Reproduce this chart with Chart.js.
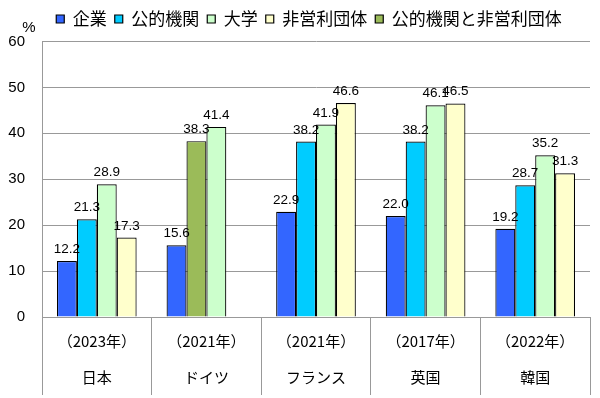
<!DOCTYPE html>
<html>
<head>
<meta charset="utf-8">
<script src="https://cdn.jsdelivr.net/npm/chart.js@4.4.1/dist/chart.umd.min.js"></script>
<style>
  body { margin: 0; background: #fff; }
  #wrap { width: 600px; height: 398px; }
</style>
</head>
<body>
<div id="wrap"><canvas id="c"></canvas></div>
<script>
// 各国の研究者の所属別割合（%）
var categories = [['（2023年）', '日本'], ['（2021年）', 'ドイツ'], ['（2021年）', 'フランス'], ['（2017年）', '英国'], ['（2022年）', '韓国']];
var seriesNames = ['企業', '公的機関', '大学', '非営利団体', '公的機関と非営利団体'];
var companies = [12.2, 15.6, 22.9, 22.0, 19.2];
var publicInst = [21.3, null, 38.2, 38.2, 28.7];
var universities = [28.9, 41.4, 41.9, 46.1, 35.2];
var nonprofits = [17.3, null, 46.6, 46.5, 31.3];
var publicAndNonprofit = [null, 38.3, null, null, null];
var yTicks = [0, 10, 20, 30, 40, 50, 60];

Chart.defaults.font.family = "'Liberation Sans', Arial, 'Noto Sans CJK JP', sans-serif";
Chart.defaults.color = '#000';

var valueLabels = {
  id: 'valueLabels',
  afterDatasetsDraw: function (chart) {
    var ctx = chart.ctx;
    ctx.save();
    ctx.font = "13.5px 'Liberation Sans', Arial, sans-serif";
    ctx.fillStyle = '#000';
    ctx.textAlign = 'center';
    ctx.textBaseline = 'bottom';
    chart.data.datasets.forEach(function (ds, i) {
      chart.getDatasetMeta(i).data.forEach(function (bar, j) {
        var v = ds.data[j];
        if (v === null) return;
        ctx.fillText(v.toFixed(1), bar.x, bar.y - 5);
      });
    });
    ctx.restore();
  }
};

var unitLabel = {
  id: 'unitLabel',
  afterDraw: function (chart) {
    var ctx = chart.ctx;
    ctx.save();
    ctx.font = "15px 'Liberation Sans', Arial, sans-serif";
    ctx.fillStyle = '#000';
    ctx.textAlign = 'center';
    ctx.textBaseline = 'middle';
    ctx.fillText('%', chart.chartArea.left - 13, chart.chartArea.top - 14);
    ctx.restore();
  }
};

// nudge the legend a little right and up, as in the original
var legendShift = {
  id: 'legendShift',
  afterLayout: function (chart) {
    var lg = chart.legend;
    if (!lg) return;
    lg.left += 14; lg.right += 14;
    lg.top -= 4; lg.bottom -= 4;
  }
};

function bar(label, data, color, stack) {
  return {
    label: label, data: data, backgroundColor: color, borderColor: '#000',
    borderWidth: 1.2, stack: stack, barPercentage: 1, categoryPercentage: 0.727
  };
}

new Chart(document.getElementById('c'), {
  type: 'bar',
  data: {
    labels: categories,
    datasets: [
      bar(seriesNames[0], companies, '#3366FF', 'a'),
      bar(seriesNames[1], publicInst, '#00CCFF', 'b'),
      bar(seriesNames[2], universities, '#CCFFCC', 'c'),
      bar(seriesNames[3], nonprofits, '#FFFFCC', 'd'),
      bar(seriesNames[4], publicAndNonprofit, '#9BBB59', 'b')
    ]
  },
  options: {
    responsive: true,
    maintainAspectRatio: false,
    animation: false,
    layout: { padding: { left: 0, right: 10, top: 6.5, bottom: 0 } },
    plugins: {
      tooltip: { enabled: false },
      legend: {
        position: 'top',
        labels: {
          boxWidth: 8, boxHeight: 8, padding: 8,
          font: { size: 17, family: "'Noto Sans CJK JP', sans-serif" }
        }
      }
    },
    scales: {
      x: {
        grid: { offset: true, drawOnChartArea: false, tickLength: 78, color: '#999' },
        border: { color: '#999' },
        ticks: { padding: -72, font: { size: 15, lineHeight: 2.4, family: "'Noto Sans CJK JP', sans-serif" }, maxRotation: 0 },
        afterFit: function (s) { s.height = 81; }
      },
      y: {
        min: 0, max: 60,
        afterBuildTicks: function (s) { s.ticks = yTicks.map(function (v) { return { value: v }; }); },
        grid: { color: '#999', drawTicks: false },
        border: { color: '#999' },
        ticks: { padding: 17, font: { size: 15 } },
        afterFit: function (s) { s.width = 42; }
      }
    }
  },
  plugins: [valueLabels, unitLabel, legendShift]
});
</script>
</body>
</html>
